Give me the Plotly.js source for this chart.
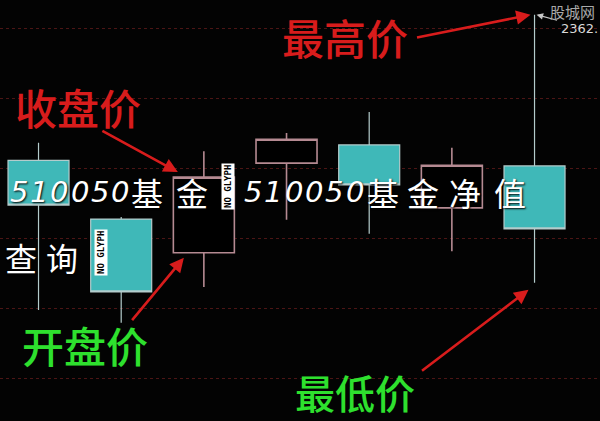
<!DOCTYPE html>
<html>
<head>
<meta charset="utf-8">
<script src="https://cdn.plot.ly/plotly-3.0.1.min.js"></script>
<style>
html,body{margin:0;padding:0;background:#000;}
#chart{width:600px;height:421px;}
</style>
</head>
<body>
<div id="chart"></div>
<script>
// ---- data ----
const days  = [0, 1, 2, 3, 4, 5, 6];
const open  = [2341.1, 2332.7, 2327.9, 2340.7, 2343.3, 2334.3, 2340.3];
const high  = [2343.6, 2333.0, 2342.4, 2345.0, 2348.0, 2342.9, 2361.9];
const low   = [2319.7, 2317.9, 2323.0, 2332.6, 2330.6, 2328.1, 2323.6];
const close = [2334.7, 2322.3, 2338.7, 2344.1, 2337.6, 2340.4, 2331.3];

const labelHigh  = '最高价';
const labelClose = '收盘价';
const labelOpen  = '开盘价';
const labelLow   = '最低价';
const watermark  = '股城网';
const highTag    = '2362.';
const overlayChars1a = ['5','1','0','0','5','0','基','金'];
const overlayChars1b = ['5','1','0','0','5','0','基','金','净','值'];
const overlayChars2  = ['查','询'];
const tofuText = 'NO GLYPH';

// ---- styling / layout helpers ----
const W = 600, H = 421;
const px = x => x / W;
const py = y => 1 - y / H;

const trace = {
  type: 'candlestick',
  x: days, open: open, high: high, low: low, close: close,
  increasing: {line: {color: '#b58a92', width: 1.6}, fillcolor: '#000000'},
  decreasing: {line: {color: '#b4cccc', width: 1.2}, fillcolor: '#3fb8b8'},
  whiskerwidth: 0,
  hoverinfo: 'skip'
};

const red = '#d81c1c';
const green = '#2ee02e';
const ann = [];

function label(text, cx, cy, color, size) {
  ann.push({xref: 'paper', yref: 'paper', x: px(cx), y: py(cy), text: text,
    showarrow: false, xanchor: 'center', yanchor: 'middle', borderpad: 0,
    font: {family: 'Noto Sans CJK SC', size: size || 42, color: color, weight: 500}});
}
function arrow(xi, yv, xs, ys, ax, ay, color, w) {
  ann.push({xref: 'x', yref: 'y', x: xi, y: yv, xshift: xs, yshift: ys, text: '',
    showarrow: true, arrowhead: 2, arrowsize: 1.1, arrowwidth: w || 2.6, arrowcolor: color,
    axref: 'pixel', ayref: 'pixel', ax: ax, ay: ay});
}

label(labelHigh, 345, 37, red);
label(labelClose, 78, 107, red);
label(labelOpen, 85, 344, green);
label(labelLow, 355, 392, green, 40);

arrow(days[6], high[6], -4, 0, -115, 23, red);
arrow(days[2], close[2], -26, 5, -77, -42, red);
arrow(days[2], open[2], -20, -5, -53, 64, red);
arrow(days[6], low[6], -6, -7, -108, 82, red);
// small grey marker at the top
arrow(days[6], high[6], 2, 0, 22, 6, '#c8c8c8', 1.2);

ann.push({xref: 'paper', yref: 'paper', x: px(572), y: py(12), text: watermark, showarrow: false,
  xanchor: 'center', yanchor: 'middle', font: {family: 'Noto Sans CJK SC', size: 15, color: '#a8a8a8'}});
ann.push({xref: 'paper', yref: 'paper', x: px(579), y: py(28), text: highTag, showarrow: false,
  xanchor: 'center', yanchor: 'middle', font: {family: 'DejaVu Sans', size: 13, color: '#d8d8d8'}});

// overlay white text, character by character
function glyph(ch, cx, cy) {
  const isDigit = /[0-9]/.test(ch);
  ann.push({xref: 'paper', yref: 'paper', x: px(cx), y: py(cy), text: ch, showarrow: false,
    xanchor: 'center', yanchor: 'middle',
    font: {family: isDigit ? 'DejaVu Sans' : 'Noto Sans CJK SC', size: isDigit ? 29 : 32,
           color: '#ffffff', style: isDigit ? 'italic' : 'normal', weight: isDigit ? 300 : 400,
           shadow: '1px 1px 2px #000'}});
}
const pos1a = [19, 39, 59, 80, 100, 120, 147, 192];
const pos1b = [253, 273, 294, 314, 334, 355, 383, 423, 465, 510];
const pos2 = [21, 62];
overlayChars1a.forEach((c, i) => glyph(c, pos1a[i], 192));
overlayChars1b.forEach((c, i) => glyph(c, pos1b[i], 192));
overlayChars2.forEach((c, i) => glyph(c, pos2[i], 257));

function tofu(cx, cy) {
  ann.push({xref: 'paper', yref: 'paper', x: px(cx), y: py(cy), text: '<b>' + tofuText + '</b>',
    showarrow: false, xanchor: 'center', yanchor: 'middle', textangle: -90,
    bgcolor: '#ffffff', borderpad: 1,
    font: {family: 'DejaVu Sans Mono', size: 9, color: '#000000'}});
}
tofu(228, 187);
tofu(101, 253);

const layout = {
  width: W, height: H,
  margin: {l: 0, r: 0, t: 0, b: 0},
  paper_bgcolor: '#030303', plot_bgcolor: '#030303',
  showlegend: false,
  boxgap: 0.262, boxgroupgap: 0,
  xaxis: {range: [-0.466, 6.792], showgrid: false, zeroline: false, showticklabels: false,
          ticks: '', rangeslider: {visible: false}, fixedrange: true},
  yaxis: {range: [2303.857, 2364], tick0: 2300, dtick: 10, showgrid: true,
          gridcolor: 'rgba(95,26,26,0.8)', griddash: 'dot', gridwidth: 1,
          zeroline: false, showticklabels: false, ticks: '', fixedrange: true},
  annotations: ann
};

Plotly.newPlot('chart', [trace], layout, {displayModeBar: false, staticPlot: true});
</script>
</body>
</html>
